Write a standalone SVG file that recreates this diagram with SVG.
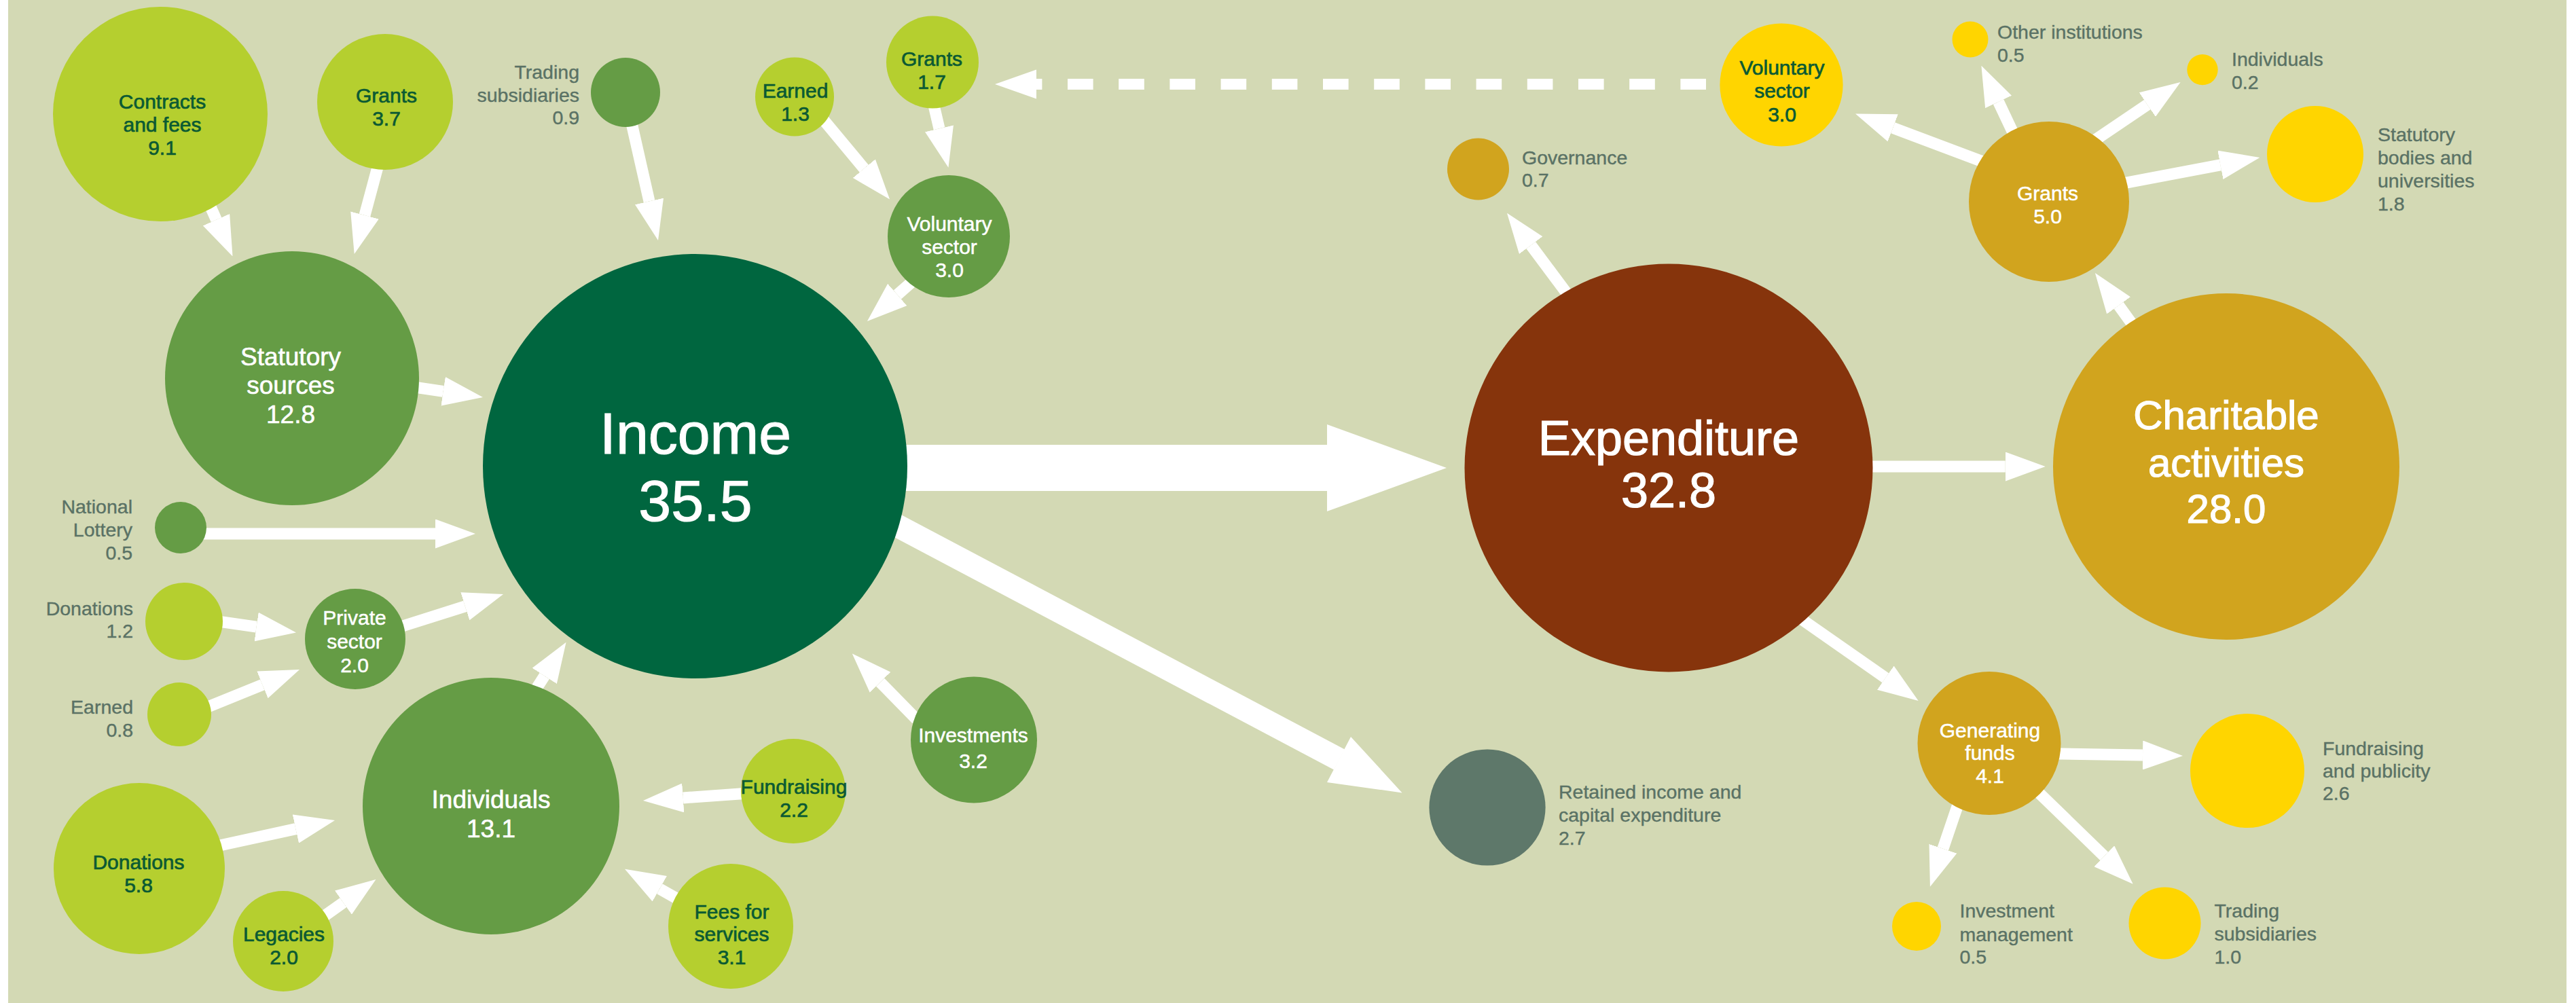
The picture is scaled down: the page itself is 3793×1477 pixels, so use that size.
<svg xmlns="http://www.w3.org/2000/svg" width="3793" height="1477" viewBox="0 0 3793 1477">
<defs>
<style>
.bg{fill:#d3d9b4}
.lime{fill:#b5cf2f}
.mid{fill:#659c45}
.dark{fill:#00663f}
.brown{fill:#86340c}
.gold{fill:#d1a41e}
.yel{fill:#ffd500}
.gray{fill:#5e786a}
.sh{stroke:#ffffff;stroke-width:17;fill:none;stroke-linecap:butt}
.hd{fill:#ffffff}
text{font-family:"Liberation Sans",Arial,sans-serif}
.tw{fill:#ffffff;font-size:30px;text-anchor:middle;stroke:#ffffff;stroke-width:0.5}
.tg{fill:#0b5a33;font-size:30px;text-anchor:middle;stroke:#0b5a33;stroke-width:0.7}
.tl{fill:#5a7265;font-size:28.5px;stroke:#5a7265;stroke-width:0.4}
.tlr{fill:#5a7265;font-size:28.5px;text-anchor:end;stroke:#5a7265;stroke-width:0.4}
.tbig{fill:#ffffff;font-size:37px;text-anchor:middle;stroke:#ffffff;stroke-width:0.6}
.thuge{fill:#ffffff;text-anchor:middle;stroke:#ffffff;stroke-width:1.2}
</style>
<marker id="ah" markerUnits="userSpaceOnUse" markerWidth="59" markerHeight="43" viewBox="0 0 59 43" refX="0" refY="21.5" orient="auto">
<path d="M0,0 L59,21.5 L0,43 z" fill="#ffffff"/>
</marker>
</defs>
<rect x="0" y="0" width="3793" height="1477" fill="#ffffff"/>
<rect class="bg" x="12" y="0" width="3767" height="1477"/>

<g id="connectors">
<line class="sh" x1="305.9" y1="295.3" x2="318.5" y2="323.6" marker-end="url(#ah)"/>
<line class="sh" x1="558.9" y1="235.5" x2="537" y2="317" marker-end="url(#ah)"/>
<line class="sh" x1="927.7" y1="171.4" x2="956" y2="296.4" marker-end="url(#ah)"/>
<line class="sh" x1="602.2" y1="568.8" x2="652.6" y2="576.3" marker-end="url(#ah)"/>
<line class="sh" x1="289" y1="786" x2="641" y2="786" marker-end="url(#ah)"/>
<line class="sh" x1="313.2" y1="913.9" x2="377.6" y2="923.1" marker-end="url(#ah)"/>
<line class="sh" x1="297.1" y1="1044.7" x2="386.4" y2="1008.3" marker-end="url(#ah)"/>
<line class="sh" x1="581.7" y1="925.5" x2="684.8" y2="892.8" marker-end="url(#ah)"/>
<line class="sh" x1="782.9" y1="1024.6" x2="801.7" y2="995.3" marker-end="url(#ah)"/>
<line class="sh" x1="313.3" y1="1247.2" x2="435.4" y2="1220.6" marker-end="url(#ah)"/>
<line class="sh" x1="469.3" y1="1354.7" x2="505.4" y2="1329.1" marker-end="url(#ah)"/>
<line class="sh" x1="1205.1" y1="167.5" x2="1272.3" y2="248.2" marker-end="url(#ah)"/>
<line class="sh" x1="1372.6" y1="144.9" x2="1383" y2="189.3" marker-end="url(#ah)"/>
<line class="sh" x1="1351.3" y1="407.7" x2="1321.3" y2="434" marker-end="url(#ah)"/>
<line class="sh" x1="1349.5" y1="1059.2" x2="1296.1" y2="1004.7" marker-end="url(#ah)"/>
<line class="sh" x1="1106.6" y1="1167.7" x2="1005.8" y2="1174.9" marker-end="url(#ah)"/>
<line class="sh" x1="1007.6" y1="1329.4" x2="971.3" y2="1308.8" marker-end="url(#ah)"/>
<line class="sh" x1="2314" y1="441.4" x2="2254.2" y2="361.1" marker-end="url(#ah)"/>
<line class="sh" x1="2928" y1="241.3" x2="2787.2" y2="188.3" marker-end="url(#ah)"/>
<line class="sh" x1="2742.8" y1="687" x2="2952.7" y2="687" marker-end="url(#ah)"/>
<line class="sh" x1="2643.4" y1="905.4" x2="2776.3" y2="998.2" marker-end="url(#ah)"/>
<line class="sh" x1="2886.8" y1="1173.5" x2="2860.9" y2="1249.8" marker-end="url(#ah)"/>
<line class="sh" x1="3019" y1="1109.8" x2="3155" y2="1112" marker-end="url(#ah)"/>
<line class="sh" x1="2992.7" y1="1158.4" x2="3098.3" y2="1260.8" marker-end="url(#ah)"/>
<line class="sh" x1="2968.4" y1="204.6" x2="2942.6" y2="150" marker-end="url(#ah)"/>
<line class="sh" x1="3077.2" y1="211.4" x2="3161.8" y2="154.1" marker-end="url(#ah)"/>
<line class="sh" x1="3116.3" y1="271.8" x2="3269.4" y2="242.9" marker-end="url(#ah)"/>
<line class="sh" x1="3146.2" y1="486.4" x2="3119.6" y2="449.8" marker-end="url(#ah)"/>
<path class="hd" d="M1300,655 L1954,655 L1954,625 L2130,689 L1954,753 L1954,723 L1300,723 z"/>
<line x1="1300" y1="763" x2="1972" y2="1118.5" stroke="#ffffff" stroke-width="34"/>
<path class="hd" d="M2064.5,1167.4 L1954,1152 L1989,1085 z"/>
<line x1="2512" y1="124" x2="1526" y2="124" stroke="#ffffff" stroke-width="16" stroke-dasharray="37.6 37.6"/>
<path class="hd" d="M1526,102.5 L1465,124 L1526,145.5 z"/>
</g>

<g id="contracts-fees"><circle class="lime" cx="236" cy="168" r="158"/>
<text class="tg" x="239" y="159.5">Contracts</text><text class="tg" x="239" y="193.5">and fees</text><text class="tg" x="239" y="227.5">9.1</text></g>
<g id="grants-37"><circle class="lime" cx="567" cy="150" r="100"/>
<text class="tg" x="569" y="151">Grants</text><text class="tg" x="569" y="185">3.7</text></g>
<g id="trading-subsidiaries-09"><circle class="mid" cx="921" cy="136" r="51"/>
<text class="tlr" x="853" y="116">Trading</text><text class="tlr" x="853" y="150">subsidiaries</text><text class="tlr" x="853" y="183">0.9</text></g>
<g id="statutory-sources"><circle class="mid" cx="430" cy="557" r="187"/>
<text class="tbig" x="428" y="538">Statutory</text><text class="tbig" x="428" y="580">sources</text><text class="tbig" x="428" y="623">12.8</text></g>
<g id="national-lottery"><circle class="mid" cx="266" cy="777" r="38"/>
<text class="tlr" x="195" y="756">National</text><text class="tlr" x="195" y="790">Lottery</text><text class="tlr" x="195" y="824">0.5</text></g>
<g id="donations-12"><circle class="lime" cx="271" cy="915" r="57"/>
<text class="tlr" x="196" y="905.5">Donations</text><text class="tlr" x="196" y="939">1.2</text></g>
<g id="earned-08"><circle class="lime" cx="264" cy="1052" r="47"/>
<text class="tlr" x="196" y="1051">Earned</text><text class="tlr" x="196" y="1085">0.8</text></g>
<g id="private-sector"><circle class="mid" cx="523" cy="941" r="74"/>
<text class="tw" x="522" y="920">Private</text><text class="tw" x="522" y="955">sector</text><text class="tw" x="522" y="989.5">2.0</text></g>
<g id="individuals"><circle class="mid" cx="723" cy="1187" r="189"/>
<text class="tbig" x="723" y="1190">Individuals</text><text class="tbig" x="723" y="1232.5">13.1</text></g>
<g id="donations-58"><circle class="lime" cx="205" cy="1279" r="126"/>
<text class="tg" x="204" y="1280">Donations</text><text class="tg" x="204" y="1314">5.8</text></g>
<g id="legacies"><circle class="lime" cx="417" cy="1386" r="74"/>
<text class="tg" x="418" y="1386">Legacies</text><text class="tg" x="418" y="1420">2.0</text></g>
<g id="earned-13"><circle class="lime" cx="1170" cy="142.5" r="58"/>
<text class="tg" x="1171" y="144">Earned</text><text class="tg" x="1171" y="178">1.3</text></g>
<g id="grants-17"><circle class="lime" cx="1373" cy="91.5" r="68"/>
<text class="tg" x="1372" y="96.7">Grants</text><text class="tg" x="1372" y="130.7">1.7</text></g>
<g id="voluntary-sector-income"><circle class="mid" cx="1397" cy="348" r="90"/>
<text class="tw" x="1398" y="340">Voluntary</text><text class="tw" x="1398" y="374">sector</text><text class="tw" x="1398" y="408">3.0</text></g>
<g id="income"><circle class="dark" cx="1023.5" cy="686.5" r="312.5"/>
<text class="thuge" x="1024" y="668" font-size="86">Income</text>
<text class="thuge" x="1024" y="766.5" font-size="86">35.5</text></g>
<g id="investments"><circle class="mid" cx="1434" cy="1089.5" r="93"/>
<text class="tw" x="1433" y="1093" font-size="31">Investments</text><text class="tw" x="1433" y="1131" font-size="31">3.2</text></g>
<g id="fundraising-22"><circle class="lime" cx="1168" cy="1165" r="77"/>
<text class="tg" x="1169" y="1169" font-size="28.5">Fundraising</text><text class="tg" x="1169" y="1203">2.2</text></g>
<g id="fees-for-services"><circle class="lime" cx="1076" cy="1364" r="92"/>
<text class="tg" x="1077.5" y="1353">Fees for</text><text class="tg" x="1077.5" y="1386">services</text><text class="tg" x="1077.5" y="1420">3.1</text></g>

<g id="expenditure"><circle class="brown" cx="2457" cy="689" r="300.5"/>
<text class="thuge" x="2457" y="670" font-size="72">Expenditure</text>
<text class="thuge" x="2457" y="747" font-size="72">32.8</text></g>
<g id="governance"><circle class="gold" cx="2176.5" cy="249" r="45.5"/>
<text class="tl" x="2241" y="241.6">Governance</text><text class="tl" x="2241" y="275">0.7</text></g>
<g id="voluntary-sector-exp"><circle class="yel" cx="2623" cy="125" r="90.6"/>
<text class="tg" x="2624" y="110">Voluntary</text><text class="tg" x="2624" y="144">sector</text><text class="tg" x="2624" y="179">3.0</text></g>
<g id="retained-income"><circle class="gray" cx="2190" cy="1189" r="85.6"/>
<text class="tl" x="2295" y="1176">Retained income and</text><text class="tl" x="2295" y="1210">capital expenditure</text><text class="tl" x="2295" y="1244">2.7</text></g>
<g id="charitable-activities"><circle class="gold" cx="3278" cy="687" r="255"/>
<text class="thuge" x="3278" y="632.4" font-size="60">Charitable</text>
<text class="thuge" x="3278" y="701.7" font-size="60">activities</text>
<text class="thuge" x="3278" y="770" font-size="60">28.0</text></g>
<g id="grants-50"><circle class="gold" cx="3017" cy="297" r="118"/>
<text class="tw" x="3015" y="295">Grants</text><text class="tw" x="3015" y="329">5.0</text></g>
<g id="other-institutions"><circle class="yel" cx="2901" cy="58" r="26.5"/>
<text class="tl" x="2941" y="56.6">Other institutions</text><text class="tl" x="2941" y="90.6">0.5</text></g>
<g id="individuals-02"><circle class="yel" cx="3243" cy="102.6" r="22.7"/>
<text class="tl" x="3286" y="96.7">Individuals</text><text class="tl" x="3286" y="130.7">0.2</text></g>
<g id="statutory-bodies"><circle class="yel" cx="3409" cy="227" r="71"/>
<text class="tl" x="3501" y="207.6">Statutory</text><text class="tl" x="3501" y="241.6">bodies and</text><text class="tl" x="3501" y="276">universities</text><text class="tl" x="3501" y="310">1.8</text></g>
<g id="generating-funds"><circle class="gold" cx="2929" cy="1094.5" r="105.5"/>
<text class="tw" x="2930" y="1086">Generating</text><text class="tw" x="2930" y="1119">funds</text><text class="tw" x="2930" y="1153">4.1</text></g>
<g id="investment-management"><circle class="yel" cx="2822" cy="1364" r="36"/>
<text class="tl" x="2885.5" y="1350.5">Investment</text><text class="tl" x="2885.5" y="1386">management</text><text class="tl" x="2885.5" y="1419">0.5</text></g>
<g id="fundraising-publicity"><circle class="yel" cx="3309" cy="1135" r="84"/>
<text class="tl" x="3420" y="1112">Fundraising</text><text class="tl" x="3420" y="1145">and publicity</text><text class="tl" x="3420" y="1178">2.6</text></g>
<g id="trading-subsidiaries-10"><circle class="yel" cx="3187.5" cy="1359.5" r="53"/>
<text class="tl" x="3260.5" y="1350.5">Trading</text><text class="tl" x="3260.5" y="1384.5">subsidiaries</text><text class="tl" x="3260.5" y="1419">1.0</text></g>
</svg>
